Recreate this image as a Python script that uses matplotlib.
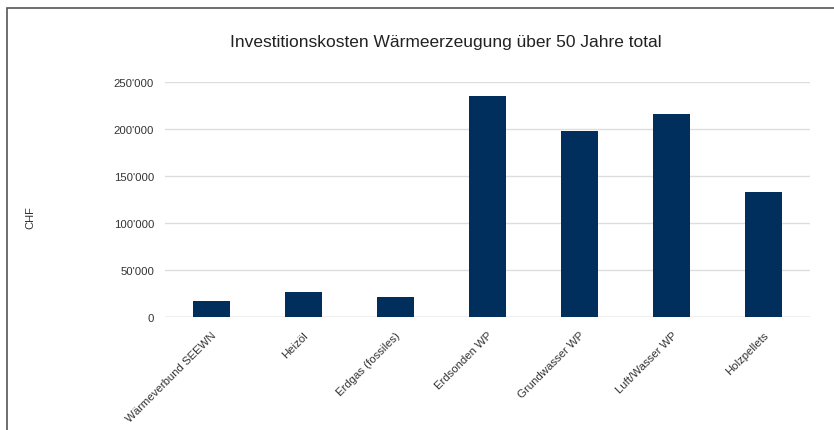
import matplotlib.pyplot as plt
from matplotlib.ticker import FuncFormatter
from matplotlib.patches import Rectangle

plt.rcParams['font.family'] = ['Liberation Sans', 'DejaVu Sans']

categories = ["Wärmeverbund SEEWN", "Heizöl", "Erdgas (fossiles)", "Erdsonden WP",
              "Grundwasser WP", "Luft/Wasser WP", "Holzpellets"]
costs = [17000, 26500, 21500, 235000, 198000, 216000, 133000]
yticks = [0, 50000, 100000, 150000, 200000, 250000]

fig = plt.figure(figsize=(8.34, 4.31), dpi=100)
ax = fig.add_axes([0.198, 0.262, 0.773, 0.545])

x = range(len(categories))
ax.bar(x, costs, width=0.4, color='#002f5e', zorder=3)

ax.set_xlim(-0.5, len(categories) - 0.5)
ax.set_ylim(0, 250000)
ax.set_yticks(yticks)
ax.yaxis.set_major_formatter(FuncFormatter(lambda v, p: f"{int(v):,}".replace(",", "'")))
ax.grid(axis='y', color='#dddddd', linewidth=1, zorder=0)
ax.set_xticks(list(x))
ax.set_xticklabels(categories, rotation=45, ha='right', rotation_mode='anchor')
ax.tick_params(axis='both', length=0, labelsize=8.2, labelcolor='#333333')
ax.tick_params(axis='y', pad=8)
ax.tick_params(axis='x', pad=9)
for s in ax.spines.values():
    s.set_visible(False)
ax.axhline(0, color='#cccccc', linewidth=1, zorder=2)

fig.text(0.535, 0.902, "Investitionskosten Wärmeerzeugung über 50 Jahre total",
         ha='center', va='center', fontsize=12.5, color='#222222')
fig.text(0.036, 0.495, "CHF", rotation=90, ha='center', va='center',
         fontsize=8, color='#333333')

# screenshot frame on left and top
fig.patches.append(Rectangle((0.008, -0.1), 1.1, 1.08, transform=fig.transFigure,
                             fill=False, edgecolor='#555555', linewidth=1.2))

fig.savefig("out.png", dpi=100)
